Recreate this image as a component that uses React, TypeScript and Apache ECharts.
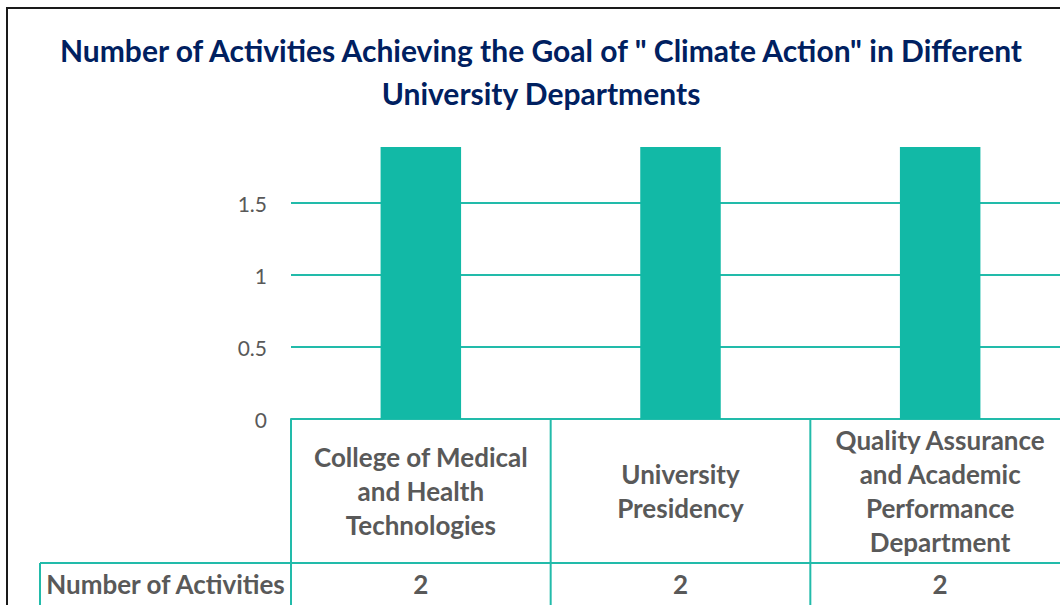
import React, { useEffect, useRef } from "react";
import * as echarts from "echarts";

const titleLines = ["Number of Activities Achieving the Goal of \" Climate Action\" in Different", "University Departments"];
const categories = [
  "College of Medical\nand Health\nTechnologies",
  "University\nPresidency",
  "Quality Assurance\nand Academic\nPerformance\nDepartment",
];
const values = [2, 2, 2];
const seriesName = "Number of Activities";
const yMin = 0;
const yMax = 1.889;
const yInterval = 0.5;

const TEAL = "#12B9A6";
const LINE = "#22BBAA";
const GRAY = "#595959";
const FONT = "Lato, 'Noto Sans', sans-serif";

export default function App() {
  const ref = useRef<HTMLDivElement>(null);
  useEffect(() => {
    if (!ref.current) return;
    const chart = echarts.init(ref.current, null, { renderer: "svg" });
    chart.setOption({
      animation: false,
      backgroundColor: "#fff",
      title: {
        text: titleLines.join("\n"),
        left: 536,
        top: 23,
        textAlign: "center",
        textStyle: { color: "#002060", fontSize: 30, fontWeight: "bold", fontFamily: FONT, lineHeight: 43 },
      },
      grid: {
        left: 291,
        width: 779,
        top: 147,
        bottom: 186,
        containLabel: false,
        outerBoundsMode: "none",
      },
      xAxis: {
        type: "category",
        data: categories,
        axisLine: { show: true, lineStyle: { color: LINE, width: 2 } },
        axisTick: { show: false },
        axisLabel: {
          interval: 0,
          margin: 72,
          verticalAlign: "middle",
          color: GRAY,
          fontSize: 26,
          fontWeight: "bold",
          fontFamily: FONT,
          lineHeight: 34,
        },
      },
      yAxis: {
        type: "value",
        min: yMin,
        max: yMax,
        interval: yInterval,
        axisLine: { show: false },
        axisTick: { show: false },
        splitLine: { show: true, showMaxLine: false, lineStyle: { color: LINE, width: 2 } },
        axisLabel: {
          showMaxLabel: false,
          margin: 24,
          color: GRAY,
          fontSize: 21,
          fontFamily: FONT,
          formatter: (v: number) => String(v),
        },
      },
      series: [
        {
          name: seriesName,
          type: "bar",
          data: values,
          barWidth: "31%",
          clip: true,
          itemStyle: { color: TEAL },
        },
      ],
    });

    const xs = categories.map((_, i) => chart.convertToPixel({ xAxisIndex: 0 }, i) as number);
    const y0 = chart.convertToPixel({ yAxisIndex: 0 }, 0) as number;
    const half = (xs[1] - xs[0]) / 2;
    const rowY = 563;
    const bottom = 640;
    const headerLeft = 40;
    const textY = 584;
    const elements: any[] = [];
    const ln = (x1: number, y1: number, x2: number, y2: number) => ({
      type: "line",
      shape: { x1, y1, x2, y2 },
      style: { stroke: LINE, lineWidth: 2 },
      z: 10,
    });
    xs.forEach((x, i) => {
      elements.push(ln(x - half, y0, x - half, bottom));
      if (i === xs.length - 1) elements.push(ln(x + half, y0, x + half, bottom));
    });
    elements.push(ln(headerLeft, rowY, xs[xs.length - 1] + half, rowY));
    elements.push(ln(headerLeft, rowY, headerLeft, bottom));
    elements.push({
      type: "text",
      x: (headerLeft + xs[0] - half) / 2,
      y: textY,
      style: {
        text: seriesName,
        fill: GRAY,
        font: `bold 26px ${FONT}`,
        align: "center",
        verticalAlign: "middle",
      },
      z: 10,
    });
    values.forEach((v, i) => {
      elements.push({
        type: "text",
        x: xs[i],
        y: textY,
        style: { text: String(v), fill: GRAY, font: `bold 26px ${FONT}`, align: "center", verticalAlign: "middle" },
        z: 10,
      });
    });
    elements.push({
      type: "rect",
      shape: { x: 7, y: 8, width: 1200, height: 800 },
      style: { fill: "none", stroke: "#1a1a1a", lineWidth: 2 },
      z: 20,
    });
    chart.setOption({ graphic: elements });
    return () => chart.dispose();
  }, []);
  return (
    <div
      ref={ref}
      style={{ position: "fixed", left: 0, top: 0, width: 1060, height: 605 }}
    />
  );
}
